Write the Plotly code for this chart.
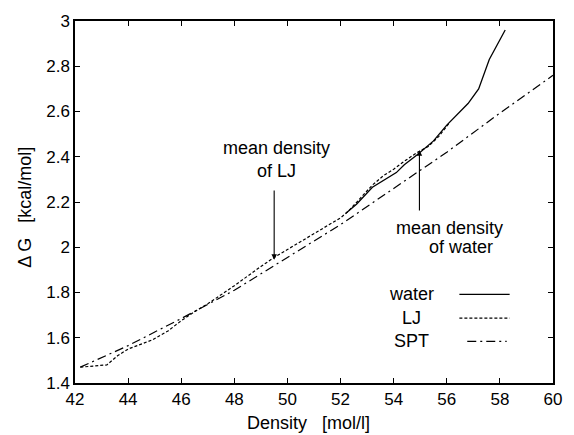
import plotly.graph_objects as go

# ---- data ----
water_x = [52.2, 52.6, 53.2, 53.6, 54.1, 54.4, 54.9, 55.5, 56.0, 56.8, 57.2, 57.6, 58.2]
water_y = [2.15, 2.19, 2.265, 2.295, 2.33, 2.365, 2.41, 2.47, 2.54, 2.635, 2.70, 2.83, 2.96]

lj_x = [42.2, 43.2, 43.6, 44.0, 44.9, 45.5, 46.0, 46.5, 47.0, 48.0, 49.0, 49.5, 50.0, 51.0,
        52.0, 52.3, 52.6, 53.2, 53.6, 54.0, 54.4, 54.9, 55.3, 55.7, 56.1]
lj_y = [1.47, 1.48, 1.52, 1.55, 1.59, 1.63, 1.675, 1.715, 1.75, 1.83, 1.915, 1.955, 1.99, 2.06,
        2.13, 2.16, 2.20, 2.275, 2.315, 2.345, 2.38, 2.42, 2.445, 2.49, 2.55]

spt_x = [42.2, 44.0, 46.0, 48.0, 50.0, 52.0, 54.0, 56.0, 58.0, 60.0]
spt_y = [1.47, 1.565, 1.685, 1.81, 1.955, 2.10, 2.26, 2.42, 2.593, 2.76]

x_ticks = [42, 44, 46, 48, 50, 52, 54, 56, 58, 60]
x_ticktext = ["42", "44", "46", "48", "50", "52", "54", "56", "58", "60"]
y_ticks = [1.4, 1.6, 1.8, 2.0, 2.2, 2.4, 2.6, 2.8, 3.0]
y_ticktext = ["1.4", "1.6", "1.8", "2", "2.2", "2.4", "2.6", "2.8", "3"]

series_names = ["water", "LJ", "SPT"]

FONT = "Liberation Sans, Arial, Helvetica, sans-serif"
FS = 18
TFS = 17

fig = go.Figure()
fig.add_trace(go.Scatter(x=water_x, y=water_y, mode="lines", name="water",
                         line=dict(color="black", width=1.3)))
fig.add_trace(go.Scatter(x=lj_x, y=lj_y, mode="lines", name="LJ",
                         line=dict(color="black", width=1.2, dash="3px,2px")))
fig.add_trace(go.Scatter(x=spt_x, y=spt_y, mode="lines", name="SPT",
                         line=dict(color="black", width=1.2, dash="9px,4px,2px,4px")))

axis_common = dict(showgrid=False, zeroline=False, showline=True, linecolor="black",
                   linewidth=1.5, mirror="ticks", ticks="inside", ticklen=5,
                   tickwidth=1.2, tickcolor="black",
                   tickfont=dict(family=FONT, size=TFS, color="black"))

fig.update_layout(
    width=574, height=435,
    margin=dict(l=75, r=14, t=17, b=52),
    paper_bgcolor="white", plot_bgcolor="white",
    showlegend=False,
    xaxis=dict(range=[42, 60], tickvals=x_ticks, ticktext=x_ticktext,
               ticklabelstandoff=0, **axis_common),
    yaxis=dict(range=[1.4, 3.0], tickvals=y_ticks, ticktext=y_ticktext,
               ticklabelstandoff=0, **axis_common),
)

annos = []
# axis titles
annos.append(dict(xref="paper", yref="paper", x=(311.7 - 75) / 485, y=-(423 - 383) / 366,
                  text="Density\u00a0\u00a0\u00a0[mol/l]", showarrow=False,
                  font=dict(family=FONT, size=FS, color="black"),
                  xanchor="center", yanchor="middle"))
annos.append(dict(xref="paper", yref="paper", x=(24 - 75) / 485, y=(383 - 205) / 366,
                  text="\u0394 G\u00a0\u00a0\u00a0[kcal/mol]", showarrow=False, textangle=-90,
                  font=dict(family=FONT, size=FS, color="black"),
                  xanchor="center", yanchor="middle"))
# mean density annotations
annos.append(dict(x=49.6, y=2.386, text="mean density<br>of LJ", showarrow=False,
                  font=dict(family=FONT, size=FS, color="black"), align="center"))
annos.append(dict(x=49.5, y=1.945, ax=49.5, ay=2.257, axref="x", ayref="y", text="",
                  showarrow=True, arrowhead=2, arrowsize=1, arrowwidth=1.1,
                  arrowcolor="black"))
annos.append(dict(x=56.1, y=2.086, text="mean density", showarrow=False,
                  font=dict(family=FONT, size=FS, color="black")))
annos.append(dict(x=56.55, y=2.003, text="of water", showarrow=False,
                  font=dict(family=FONT, size=FS, color="black")))
annos.append(dict(x=54.97, y=2.429, ax=54.97, ay=2.156, axref="x", ayref="y", text="",
                  showarrow=True, arrowhead=2, arrowsize=1, arrowwidth=1.1,
                  arrowcolor="black"))

# manual legend (text left, line sample right)
leg_y_px = [293.3, 317.5, 341.0]
leg_dash = ["solid", "3px,2px", "9px,4px,2px,4px"]
leg_x0 = [465, 465, 473]
leg_x1 = [516, 516, 513]
shapes = []
for name, ypx, dash, x0, x1 in zip(series_names, leg_y_px, leg_dash, leg_x0, leg_x1):
    yp = (383 - ypx) / 366
    annos.append(dict(xref="paper", yref="paper", x=(416.5 - 75) / 485, y=yp, text=name,
                      showarrow=False, font=dict(family=FONT, size=FS, color="black"),
                      xanchor="center", yanchor="middle"))
    shapes.append(dict(type="line", xref="paper", yref="paper",
                       x0=(x0 - 75) / 485, x1=(x1 - 75) / 485, y0=yp, y1=yp,
                       line=dict(color="black", width=1.2, dash=dash)))

fig.update_layout(annotations=annos, shapes=shapes)
fig.write_html("out.html")
